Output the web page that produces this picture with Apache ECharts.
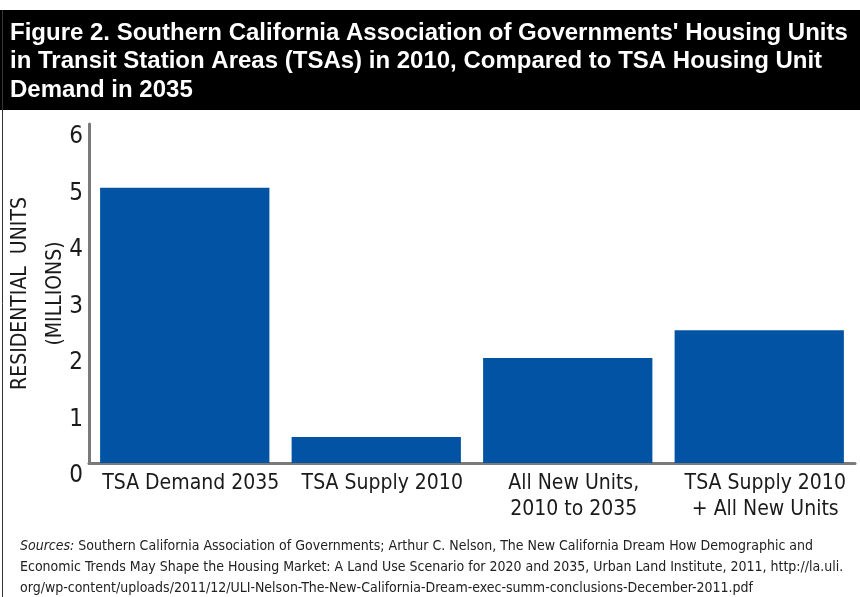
<!DOCTYPE html>
<html>
<head>
<meta charset="utf-8">
<script src="https://cdn.jsdelivr.net/npm/echarts@6/dist/echarts.min.js"></script>
<style>
html,body{margin:0;padding:0;background:#fff;}
#chart{width:860px;height:597px;}
</style>
</head>
<body>
<div id="chart"></div>
<script>
const categories = ['TSA Demand 2035', 'TSA Supply 2010', 'All New Units,\n2010 to 2035', 'TSA Supply 2010\n+ All New Units'];
const unitsMillions = [4.87, 0.46, 1.86, 2.35];
const yTicks = [0, 1, 2, 3, 4, 5, 6];
const titleLines = [
  "Figure 2. Southern California Association of Governments' Housing Units",
  "in Transit Station Areas (TSAs) in 2010, Compared to TSA Housing Unit",
  "Demand in 2035"
];
const yAxisName = 'RESIDENTIAL  UNITS\n(MILLIONS)';
const sourceLines = [
  ' Southern California Association of Governments; Arthur C. Nelson, The New California Dream How Demographic and',
  'Economic Trends May Shape the Housing Market: A Land Use Scenario for 2020 and 2035, Urban Land Institute, 2011, http://la.uli.',
  'org/wp-content/uploads/2011/12/ULI-Nelson-The-New-California-Dream-exec-summ-conclusions-December-2011.pdf'
];

const condensed = "'DejaVu Sans Condensed', 'Roboto', sans-serif";
const chart = echarts.init(document.getElementById('chart'));
chart.setOption({
  animation: false,
  backgroundColor: '#fff',
  grid: { left: 89, right: 5, top: 124, bottom: 134, containLabel: false, outerBoundsMode: 'none' },
  xAxis: {
    type: 'category',
    data: categories,
    axisLine: { lineStyle: { color: '#7a7a7a', width: 3 } },
    axisTick: { show: false },
    axisLabel: {
      color: '#1a1a1a', fontFamily: condensed, fontSize: 21, lineHeight: 26,
      margin: 8, interval: 0, padding: [0, 0, 0, 12]
    }
  },
  yAxis: {
    type: 'value',
    min: yTicks[0], max: yTicks[yTicks.length - 1], interval: 1,
    name: yAxisName,
    nameLocation: 'middle',
    nameGap: 16,
    nameRotate: 90,
    nameMoveOverlap: false,
    nameTextStyle: { color: '#1a1a1a', fontFamily: condensed, fontSize: 21, lineHeight: 35 },
    axisLine: { show: true, lineStyle: { color: '#7a7a7a', width: 3 } },
    axisTick: { show: false },
    splitLine: { show: false },
    axisLabel: {
      color: '#1a1a1a', fontFamily: condensed, fontSize: 24, margin: 6,
      verticalAlign: 'top', lineHeight: 26
    }
  },
  series: [{
    type: 'bar',
    data: unitsMillions,
    barCategoryGap: '11.6%',
    itemStyle: { color: '#0253a4' }
  }],
  graphic: [
    { type: 'rect', shape: { x: 0, y: 10, width: 860, height: 100 }, style: { fill: '#000' }, silent: true },
    { type: 'line', shape: { x1: 2.5, y1: 10, x2: 2.5, y2: 597 }, style: { stroke: '#333', lineWidth: 1 }, silent: true },
    {
      type: 'text', left: 10, top: 19,
      style: {
        text: titleLines.join('\n'),
        fill: '#fff',
        font: "bold 24px 'Liberation Sans', Arial, sans-serif",
        lineHeight: 28.5
      }
    },
    {
      type: 'text', left: 20, top: 539,
      style: {
        text: '{i|Sources:}{n|' + sourceLines[0] + '}\n{n|' + sourceLines[1] + '}\n{n|' + sourceLines[2] + '}',
        fill: '#222',
        rich: {
          i: { fontFamily: condensed, fontStyle: 'italic', fontSize: 14, lineHeight: 21, fill: '#222' },
          n: { fontFamily: condensed, fontSize: 14, lineHeight: 21, fill: '#222' }
        }
      }
    }
  ]
});
</script>
</body>
</html>
